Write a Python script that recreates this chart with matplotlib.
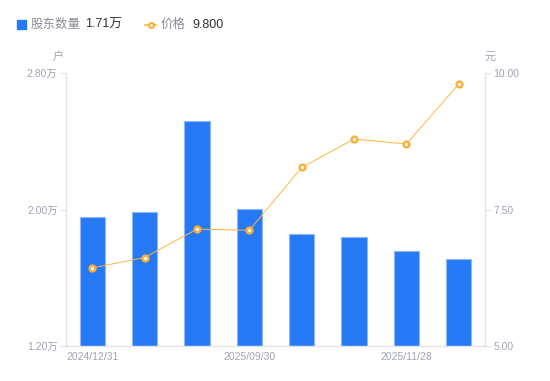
import matplotlib
matplotlib.use("Agg")
import matplotlib.pyplot as plt
from matplotlib.lines import Line2D
from matplotlib.patches import Rectangle

plt.rcParams['font.family'] = ['Liberation Sans', 'Noto Sans CJK SC', 'DejaVu Sans']

dates = ["2024/12/31", "2025/03/31", "2025/06/30", "2025/09/30",
         "2025/10/20", "2025/11/10", "2025/11/28", "2025/12/10"]
holders = [1.957, 1.986, 2.519, 2.002, 1.855, 1.838, 1.754, 1.71]   # 万户
price = [6.43, 6.62, 7.14, 7.12, 8.27, 8.79, 8.70, 9.80]            # 元
shown_labels = {0: "2024/12/31", 3: "2025/09/30", 6: "2025/11/28"}
left_ticks = [1.20, 2.00, 2.80]
right_ticks = [5.00, 7.50, 10.00]

BLUE = "#2679F5"
ORANGE = "#FFB53F"
GRID = "#E3E4E8"
TICK = "#A0A2B4"

W, H = 550, 381
fig = plt.figure(figsize=(W / 100, H / 100), dpi=100)
fig.patch.set_facecolor("white")
ax = fig.add_axes([66 / W, 1 - 346 / H, (485 - 66) / W, (346 - 73) / H])
ax2 = ax.twinx()

x = list(range(len(dates)))
ax.bar(x, holders, width=0.48, color=BLUE, edgecolor="#8DB6F8", linewidth=0.8, zorder=2)
ax.set_xlim(-0.5, len(dates) - 0.5)
ax.set_ylim(left_ticks[0], left_ticks[-1])
ax.set_yticks(left_ticks)
ax.set_yticklabels([f"{v:.2f}万" for v in left_ticks])
ax.set_xticks(list(shown_labels.keys()))
ax.set_xticklabels(list(shown_labels.values()))

ax2.plot(x, price, color=ORANGE, lw=0.7, marker="o", ms=4.2, mfc="white",
         mec="#FDAE37", mew=1.7, zorder=3)
ax2.set_ylim(right_ticks[0], right_ticks[-1])
ax2.set_yticks(right_ticks)
ax2.set_yticklabels([f"{v:.2f}" for v in right_ticks])

for a in (ax, ax2):
    for s in a.spines.values():
        s.set_color(GRID)
        s.set_linewidth(1)
    a.spines["top"].set_visible(False)
ax.spines["right"].set_visible(False)
ax2.spines["left"].set_visible(False)
ax2.spines["bottom"].set_visible(False)

ax.tick_params(axis="y", length=4, width=0.8, color=GRID, labelcolor=TICK, labelsize=7.5, pad=2)
ax.tick_params(axis="x", length=0, labelcolor=TICK, labelsize=7.5, pad=4)
ax2.tick_params(axis="y", length=4, width=0.8, color=GRID, labelcolor=TICK, labelsize=7.5, pad=2)
ax.set_zorder(1)
ax2.set_zorder(2)
ax.patch.set_visible(False)

# unit labels
fig.text(58 / W, 1 - 57 / H, "户", color=TICK, fontsize=8, ha="center", va="center")
fig.text(490 / W, 1 - 57 / H, "元", color=TICK, fontsize=8, ha="center", va="center")

# legend
fig.patches.append(Rectangle((17 / W, 1 - 28.5 / H), 8.5 / W, 8.5 / H, transform=fig.transFigure,
                             color=BLUE, figure=fig))
fig.text(31 / W, 1 - 24.5 / H, "股东数量", color="#8A8C9C", fontsize=9, va="center")
fig.text(85 / W, 1 - 24.5 / H, f"{holders[-1]:.2f}万", color="#333333", fontsize=9, va="center")
fig.lines.append(Line2D([145 / W, 156 / W], [1 - 24.5 / H, 1 - 24.5 / H], transform=fig.transFigure,
                        color=ORANGE, lw=1.2, figure=fig, zorder=1))
fig.lines.append(Line2D([150.5 / W], [1 - 24.5 / H], transform=fig.transFigure,
                        color=ORANGE, lw=0, marker="o", ms=3.5, mfc="white", mec="#FDAE37",
                        mew=1.5, figure=fig, zorder=2))
fig.text(161 / W, 1 - 24.5 / H, "价格", color="#8A8C9C", fontsize=9, va="center")
fig.text(192 / W, 1 - 24.5 / H, f"{price[-1]:.3f}", color="#333333", fontsize=9, va="center")

fig.savefig("out.png", dpi=100)
